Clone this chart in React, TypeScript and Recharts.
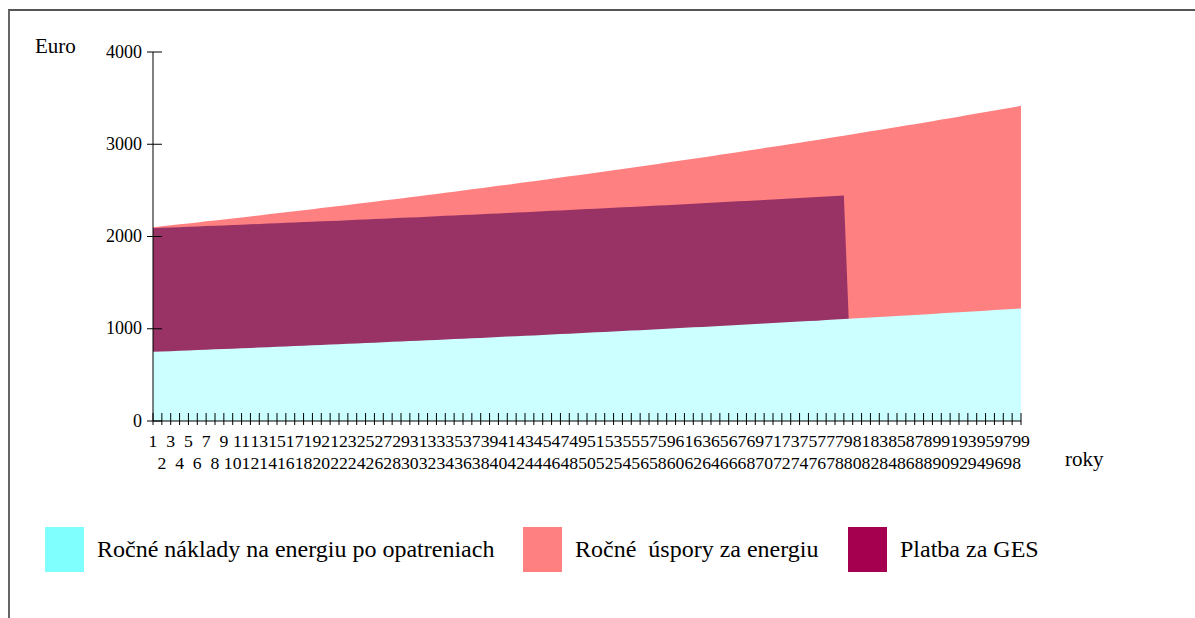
import React from "react";
import { AreaChart, Area, XAxis, YAxis, Legend } from "recharts";

// Years 1..99
const years: number[] = Array.from({ length: 99 }, (_, i) => i + 1);

// Ročné náklady na energiu po opatreniach (cyan, front)
const costs: number[] = [
  750, 754, 757, 761, 765, 769, 773, 777, 780, 784,
  788, 792, 796, 800, 804, 808, 812, 816, 820, 824,
  828, 832, 837, 841, 845, 849, 853, 858, 862, 866,
  870, 875, 879, 884, 888, 892, 897, 901, 906, 910,
  915, 919, 924, 928, 933, 938, 942, 947, 952, 957,
  961, 966, 971, 976, 981, 985, 990, 995, 1000, 1005,
  1010, 1015, 1020, 1025, 1031, 1036, 1041, 1046, 1051, 1056,
  1062, 1067, 1072, 1078, 1083, 1088, 1094, 1099, 1105, 1110,
  1116, 1121, 1127, 1132, 1138, 1144, 1149, 1155, 1161, 1167,
  1173, 1178, 1184, 1190, 1196, 1202, 1208, 1214, 1220,
];

// Ročné úspory za energiu (red, back) – plotted level
const savings: number[] = [
  2100, 2110, 2121, 2132, 2142, 2153, 2164, 2174, 2185, 2196,
  2207, 2218, 2229, 2240, 2251, 2262, 2274, 2285, 2296, 2308,
  2319, 2331, 2342, 2354, 2366, 2377, 2389, 2401, 2413, 2425,
  2437, 2449, 2462, 2474, 2486, 2499, 2511, 2523, 2536, 2549,
  2561, 2574, 2587, 2600, 2613, 2626, 2639, 2652, 2665, 2678,
  2692, 2705, 2719, 2732, 2746, 2759, 2773, 2787, 2801, 2815,
  2829, 2843, 2857, 2871, 2885, 2900, 2914, 2929, 2943, 2958,
  2973, 2987, 3002, 3017, 3032, 3047, 3063, 3078, 3093, 3108,
  3124, 3140, 3155, 3171, 3187, 3203, 3218, 3234, 3250, 3267,
  3283, 3299, 3316, 3332, 3349, 3365, 3382, 3399, 3416,
];

// Platba za GES (purple, middle) – plotted level
const payment: number[] = [
  2090, 2094, 2097, 2101, 2105, 2109, 2113, 2117, 2120, 2124,
  2128, 2132, 2136, 2140, 2144, 2148, 2152, 2156, 2160, 2164,
  2168, 2172, 2177, 2181, 2185, 2189, 2193, 2198, 2202, 2206,
  2210, 2215, 2219, 2224, 2228, 2232, 2237, 2241, 2246, 2250,
  2255, 2259, 2264, 2268, 2273, 2278, 2282, 2287, 2292, 2297,
  2301, 2306, 2311, 2316, 2321, 2325, 2330, 2335, 2340, 2345,
  2350, 2355, 2360, 2365, 2371, 2376, 2381, 2386, 2391, 2396,
  2402, 2407, 2412, 2418, 2423, 2428, 2434, 2439, 2445, 0,
  0, 0, 0, 0, 0, 0, 0, 0, 0, 0,
  0, 0, 0, 0, 0, 0, 0, 0, 0,
];

const yTicks: number[] = [0, 1000, 2000, 3000, 4000];

const legendItems = [
  { label: "Ročné náklady na energiu po opatreniach", color: "#80FFFF", x: 45 },
  { label: "Ročné  úspory za energiu", color: "#FF8080", x: 523 },
  { label: "Platba za GES", color: "#A50050", x: 848 },
];

const data = years.map((y, i) => ({
  year: String(y),
  cost: costs[i],
  savings: savings[i],
  payment: payment[i],
}));

const FONT = "Liberation Serif";

const YTick = (props: any) => {
  const { x, y, payload } = props;
  return (
    <g>
      <line x1={x - 6} x2={x + 9} y1={y} y2={y} stroke="#000" strokeWidth={1} />
      <text x={x - 11} y={y} dy={5.5} textAnchor="end" fontSize={18} fontFamily={FONT} fill="#000">
        {payload.value}
      </text>
    </g>
  );
};

const XTick = (props: any) => {
  const { x, y, payload } = props;
  const odd = Number(payload.value) % 2 === 1;
  return (
    <g>
      <line x1={x} x2={x} y1={y - 8} y2={y + 4} stroke="#000" strokeWidth={1} />
      <text x={x} y={y + (odd ? 25.5 : 48)} textAnchor="middle" fontSize={17.7} fontFamily={FONT} fill="#000">
        {payload.value}
      </text>
    </g>
  );
};

const renderLegend = () => (
  <svg width={1195} height={60} style={{ display: "block" }}>
    {legendItems.map((it) => (
      <g key={it.label}>
        <rect x={it.x} y={0} width={39} height={45} fill={it.color} />
        <text
          x={it.x + 52}
          y={29.5}
          fontSize={24}
          fontFamily={FONT}
          fill="#000"
          style={{ whiteSpace: "pre" }}
        >
          {it.label}
        </text>
      </g>
    ))}
  </svg>
);

export default function App() {
  return (
    <div style={{ position: "absolute", left: 0, top: 0, width: 1195, height: 618, overflow: "hidden", background: "#fff" }}>
      <div
        style={{
          position: "absolute",
          left: 8,
          top: 9,
          width: 1300,
          height: 700,
          borderLeft: "2px solid #666",
          borderTop: "2px solid #555",
        }}
      />
      <div style={{ position: "absolute", left: 0, top: 0 }}>
        <AreaChart
          width={1195}
          height={618}
          data={data}
          margin={{ top: 52, right: 174, bottom: 147, left: 93 }}
        >
          <XAxis
            dataKey="year"
            height={50}
            interval={0}
            tickSize={0}
            tickMargin={0}
            tickLine={false}
            axisLine={{ stroke: "#000", strokeWidth: 1 }}
            tick={<XTick />}
            label={{
              content: () => (
                <text x={1065} y={466} fontSize={21} fontFamily={FONT} fill="#000">
                  roky
                </text>
              ),
            }}
          />
          <YAxis
            width={60}
            domain={[0, 4000]}
            ticks={yTicks}
            interval={0}
            tickSize={0}
            tickMargin={0}
            tickLine={false}
            axisLine={{ stroke: "#000", strokeWidth: 1 }}
            tick={<YTick />}
            label={{
              content: () => (
                <text x={35} y={53} fontSize={21} fontFamily={FONT} fill="#000">
                  Euro
                </text>
              ),
            }}
          />
          <Legend
            layout="horizontal"
            verticalAlign="middle"
            align="center"
            content={renderLegend}
            wrapperStyle={{ position: "absolute", top: 527, left: 0, width: 1195, height: 60 }}
          />
          <Area
            type="linear"
            dataKey="savings"
            name="Ročné  úspory za energiu"
            stroke="none"
            fill="#FF8080"
            fillOpacity={1}
            isAnimationActive={false}
            dot={false}
            activeDot={false}
          />
          <Area
            type="linear"
            dataKey="payment"
            name="Platba za GES"
            stroke="none"
            fill="#993366"
            fillOpacity={1}
            isAnimationActive={false}
            dot={false}
            activeDot={false}
          />
          <Area
            type="linear"
            dataKey="cost"
            name="Ročné náklady na energiu po opatreniach"
            stroke="none"
            fill="#CCFFFF"
            fillOpacity={1}
            isAnimationActive={false}
            dot={false}
            activeDot={false}
          />
        </AreaChart>
      </div>
    </div>
  );
}
